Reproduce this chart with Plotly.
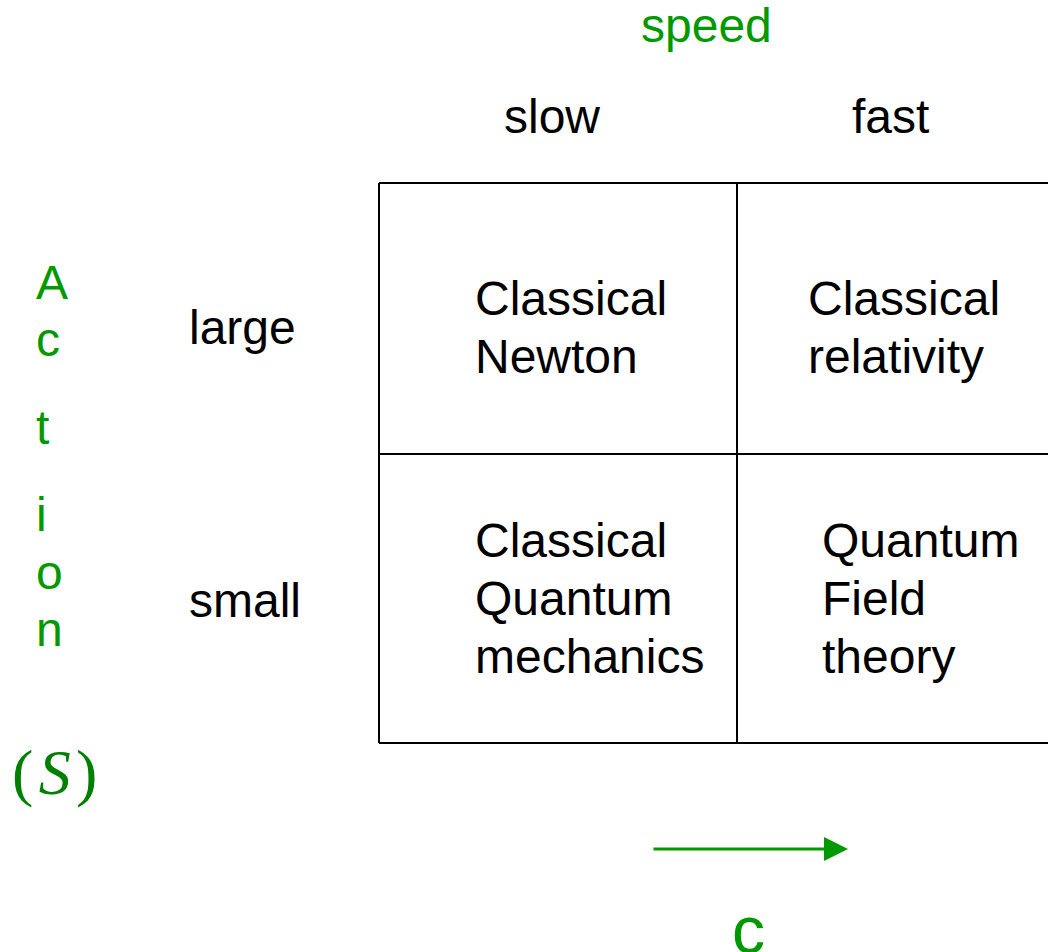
import plotly.graph_objects as go

# ---- data (labels of the diagram) ----
speed_title = "speed"
speed_labels = ["slow", "fast"]
action_letters = ["A", "c", "t", "i", "o", "n"]
action_symbol = "(\u200a<i>S</i>\u200a)"
action_labels = ["large", "small"]
cell_texts = [
    ["Classical<br>Newton", "Classical<br>relativity"],
    ["Classical<br>Quantum<br>mechanics", "Quantum<br>Field<br>theory"],
]
arrow_label = "c"

# ---- layout constants (pixel space, baselines) ----
W, H = 1048, 952
col_edges = [379, 737, 1060]
row_edges = [183, 454, 743]
speed_title_xy = (706, 43)
speed_label_x = [552, 890]
speed_label_base = 134
action_label_x = 187
action_label_base = [345, 618]
cell_text_x = [[473, 806], [473, 820]]
cell_first_base = [316, 558]
line_step = 58
letter_x = 34
letter_base = [300, 357, 445, 532, 590, 647]
GREEN = "#009900"
DARK_GREEN = "#008000"
FONT = "Liberation Sans, Arial, sans-serif"
FS = 48
BASE_OFF = 0.37 * FS  # distance from text middle to baseline


def mid(base, size=FS):
    return base - 0.37 * size


fig = go.Figure()

# grid lines
for y in row_edges:
    fig.add_shape(type="line", x0=col_edges[0], x1=col_edges[-1], y0=y, y1=y,
                  line=dict(color="black", width=2), xref="x", yref="y")
for x in col_edges[:-1]:
    fig.add_shape(type="line", x0=x, x1=x, y0=row_edges[0], y1=row_edges[-1],
                  line=dict(color="black", width=2), xref="x", yref="y")

ann = []
ann.append(dict(x=speed_title_xy[0], y=mid(speed_title_xy[1]), text=speed_title,
                font=dict(color=GREEN, size=FS, family=FONT)))
for lab, x in zip(speed_labels, speed_label_x):
    ann.append(dict(x=x, y=mid(speed_label_base), text=lab,
                    font=dict(color="black", size=FS, family=FONT)))
for lab, b in zip(action_labels, action_label_base):
    ann.append(dict(x=action_label_x, y=mid(b), text=lab, xanchor="left",
                    font=dict(color="black", size=FS, family=FONT)))
for letter, b in zip(action_letters, letter_base):
    ann.append(dict(x=letter_x, y=mid(b), text=letter, xanchor="left",
                    font=dict(color=GREEN, size=FS, family=FONT)))
ann.append(dict(x=54, y=772, text=action_symbol,
                font=dict(color=DARK_GREEN, size=64, family="Liberation Serif, Times New Roman, serif")))
for r in range(2):
    for c in range(2):
        for i, line in enumerate(cell_texts[r][c].split("<br>")):
            ann.append(dict(x=cell_text_x[r][c], y=mid(cell_first_base[r] + i * line_step),
                            text=line, xanchor="left", align="left",
                            font=dict(color="black", size=FS, family=FONT)))
ann.append(dict(x=748, y=930, text=arrow_label, font=dict(color=GREEN, size=66, family=FONT)))
# arrow
ann.append(dict(x=848, y=849, ax=652, ay=849, axref="x", ayref="y", text="",
                showarrow=True, arrowhead=2, arrowsize=1.6, arrowwidth=3, arrowcolor=GREEN))

for a in ann:
    a.setdefault("showarrow", False)
    a.setdefault("xref", "x")
    a.setdefault("yref", "y")
    a.setdefault("yanchor", "middle")
    a.setdefault("xanchor", "center")

fig.update_layout(
    width=W, height=H,
    margin=dict(l=0, r=0, t=0, b=0),
    paper_bgcolor="white", plot_bgcolor="white",
    xaxis=dict(range=[0, W], visible=False, fixedrange=True),
    yaxis=dict(range=[H, 0], visible=False, fixedrange=True),
    annotations=ann,
    showlegend=False,
)

fig.write_html("out.html", post_script="document.body.style.margin='0';",
               config={"displayModeBar": False})
